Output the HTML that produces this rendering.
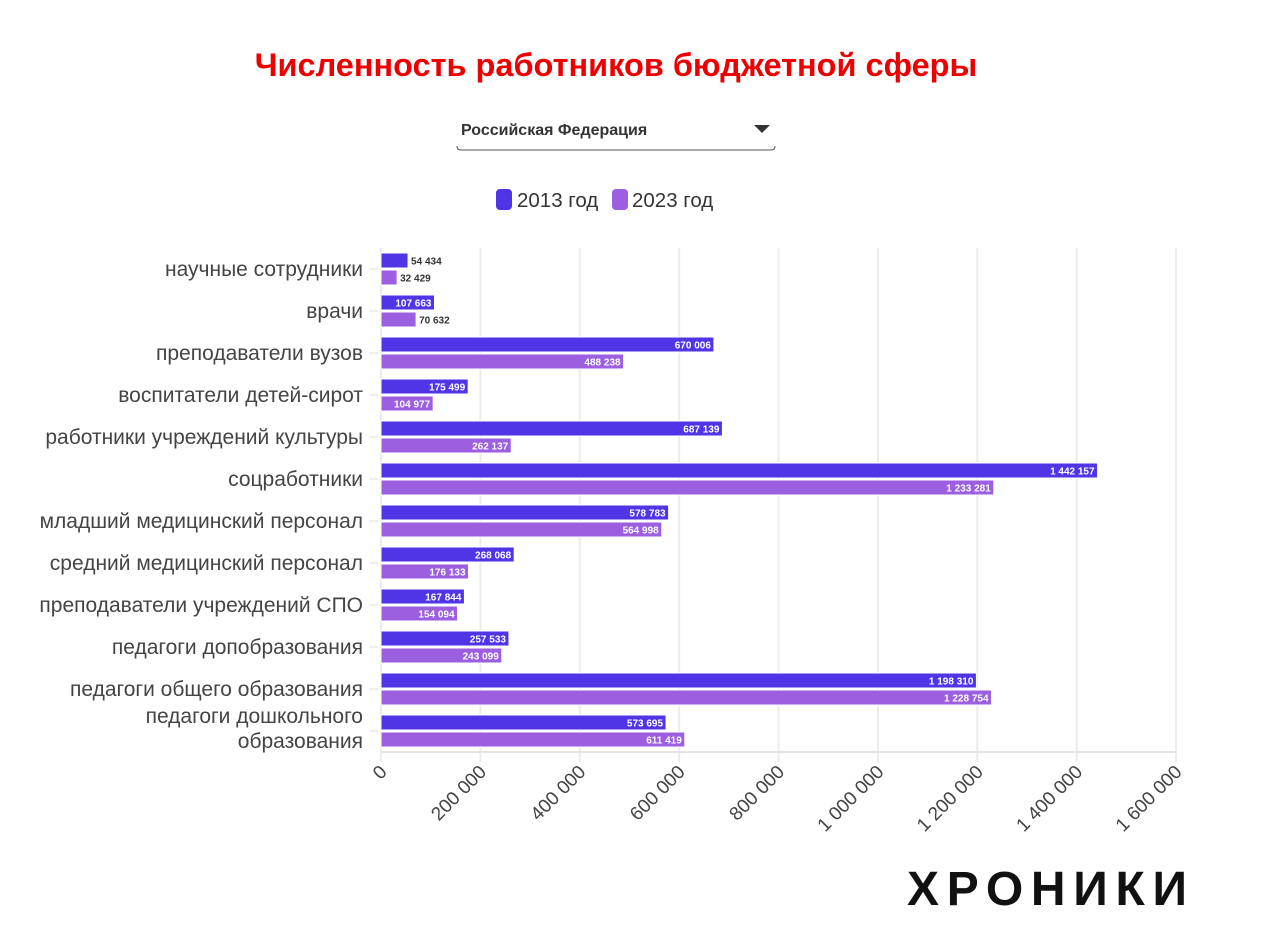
<!DOCTYPE html>
<html><head><meta charset="utf-8"><style>
body{margin:0;background:#fff;}
svg{display:block;font-family:"Liberation Sans","DejaVu Sans",sans-serif;}
</style></head><body>
<svg id="chart" width="1280" height="933" viewBox="0 0 1280 933">
<defs><clipPath id="lblclip"><rect x="38" y="240" width="340" height="520"/></clipPath></defs>
<text x="616" y="76" text-anchor="middle" font-size="32.5" font-weight="bold" fill="#ee0000">Численность работников бюджетной сферы</text>
<g>
<text x="461" y="135" font-size="16" font-weight="bold" fill="#333">Российская Федерация</text>
<path d="M754 125 L770 125 L762 133 Z" fill="#333"/>
<path d="M457 146 Q457 150 461 150 L771 150 Q775 150 775 146" fill="none" stroke="#555" stroke-width="1"/>
</g>
<g>
<rect x="496" y="189" width="16" height="21" rx="4" fill="#4f35e6"/>
<text x="517" y="207" font-size="20.5" fill="#333">2013 год</text>
<rect x="612" y="189" width="16" height="21" rx="4" fill="#9b5fe0"/>
<text x="632" y="207" font-size="20.5" fill="#333">2023 год</text>
</g>
<g id="grid"></g><g id="bars"></g><g id="labels"></g><g id="cats" clip-path="url(#lblclip)"></g><g id="xaxis"></g>
<text x="907" y="905" font-size="48" font-weight="bold" fill="#111" letter-spacing="8" textLength="288" lengthAdjust="spacing">ХРОНИКИ</text>
</svg>
<script>
const categories=["научные сотрудники","врачи","преподаватели вузов","воспитатели детей-сирот","работники учреждений культуры","соцработники","младший медицинский персонал","средний медицинский персонал","преподаватели учреждений СПО","педагоги допобразования","педагоги общего образования","педагоги дошкольного образования"];
const values2013=[54434,107663,670006,175499,687139,1442157,578783,268068,167844,257533,1198310,573695];
const values2023=[32429,70632,488238,104977,262137,1233281,564998,176133,154094,243099,1228754,611419];
const xTicks=[0,200000,400000,600000,800000,1000000,1200000,1400000,1600000];
const NS="http://www.w3.org/2000/svg";
const x0=381,x1=1176,xMax=1600000,yTop=248,band=42;
const xs=v=>x0+v/xMax*(x1-x0);
const ys=i=>yTop+i*band;
const fmt=v=>String(v).replace(/\B(?=(\d{3})+(?!\d))/g," ");
function mk(tag,attrs,parent){const e=document.createElementNS(NS,tag);for(const k in attrs)e.setAttribute(k,attrs[k]);document.getElementById(parent).appendChild(e);return e;}
xTicks.forEach(t=>{
 const g=mk("line",{x1:xs(t),x2:xs(t),y1:yTop,y2:762,stroke:"#ececec","stroke-width":2},"grid");
 
 
 const tx=mk("text",{x:xs(t)+7,y:773,"text-anchor":"end","font-size":19,fill:"#444",transform:`rotate(-45 ${xs(t)+7} 773)`},"xaxis");
 tx.textContent=fmt(t);
 
 
});
const base=mk("line",{x1:x0,x2:x1,y1:yTop+band*12,y2:yTop+band*12,stroke:"#e4e4e4","stroke-width":2},"grid");


categories.forEach((c,i)=>{
 const y=ys(i);
 [[values2013[i],"#4f35e6",y+5,"bar-2013"],[values2023[i],"#9b5fe0",y+22,"bar-2023"]].forEach(([v,col,by,nm])=>{
  const w=xs(v)-x0;
  const r=mk("rect",{x:x0,y:by,width:w,height:15,fill:col,stroke:"#fff","stroke-width":1},"bars");
  
  
  const inside=w>45;
  const t=mk("text",{x:inside?xs(v)-3:xs(v)+3,y:by+11.5,"text-anchor":inside?"end":"start","font-size":10,"font-weight":"bold",fill:inside?"#fff":"#333"},"labels");
  t.textContent=fmt(v);
  
  
 });
 const cy=y+21;
 if(c==="педагоги дошкольного образования"){
  const a=mk("text",{x:363,y:cy-8,"text-anchor":"end","font-size":21,fill:"#444"},"cats");a.textContent="педагоги дошкольного";
  
  
  const b=mk("text",{x:363,y:cy+17,"text-anchor":"end","font-size":21,fill:"#444"},"cats");b.textContent="образования";
  
  
 } else {
  const t=mk("text",{x:363,y:cy+7,"text-anchor":"end","font-size":21,fill:"#444"},"cats");
  t.textContent=c;
  
  
 }
 const tk=mk("line",{x1:369,x2:378,y1:cy,y2:cy,stroke:"#ddd"},"grid");
 
 
});
</script>
</body></html>
